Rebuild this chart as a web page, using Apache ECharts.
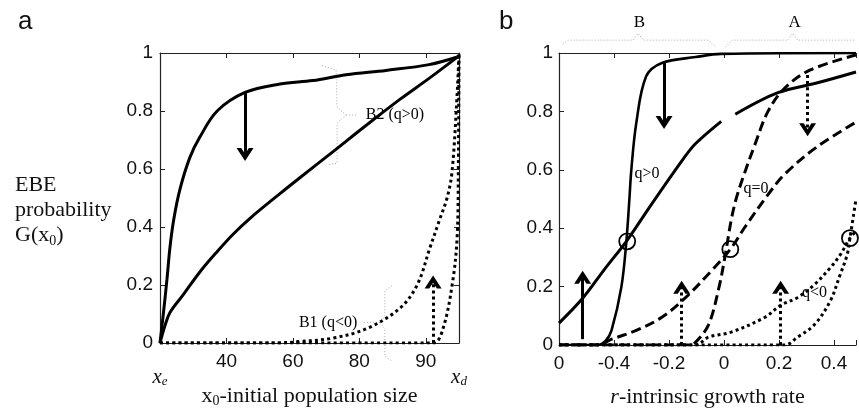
<!DOCTYPE html>
<html><head><meta charset="utf-8">
<script src="https://cdn.jsdelivr.net/npm/echarts@6/dist/echarts.min.js"></script>
<style>html,body{margin:0;padding:0;background:#fff}#c{width:859px;height:413px}</style>
</head><body><div id="c"></div>
<script>
// ---------- Panel a ----------
const aTickValues = [40, 60, 80, 100];
const aTickLabels = ['40', '60', '80', '90'];
const aSolidSteepX = [20, 21, 22.1, 23, 24.2, 26, 29, 32, 37.2, 45.6, 56.1, 66, 76, 88, 101, 110];
const aSolidSteepY = [0, 0.1, 0.22, 0.33, 0.43, 0.53, 0.64, 0.71, 0.8, 0.864, 0.893, 0.905, 0.925, 0.94, 0.96, 0.988];
const aSolidShallowX = [20, 21.5, 23, 26.9, 32, 37.2, 42, 47.1, 56.1, 62.1, 72.1, 82, 92.2, 101.3, 110];
const aSolidShallowY = [0, 0.06, 0.105, 0.165, 0.245, 0.315, 0.375, 0.43, 0.515, 0.57, 0.66, 0.75, 0.84, 0.915, 0.99];
const aDotShallowX = [20, 55, 62.1, 72.1, 82.3, 92.2, 97.4, 101.3, 104, 106.4, 107.9, 109.4, 110];
const aDotShallowY = [0, 0, 0.005, 0.017, 0.05, 0.12, 0.2, 0.33, 0.42, 0.5, 0.59, 0.85, 1];
const aDotSteepX = [20, 102.2, 105.2, 108.2, 109.5, 109.8, 110];
const aDotSteepY = [0, 0, 0.05, 0.22, 0.38, 0.6, 1];
const aArrowX = [45.6, 102.2];
const aArrowFrom = [0.864, 0];
const aArrowTo = [0.65, 0.21];
const aArrowDotted = [false, true];
const aLabelText = ['B2 (q>0)', 'B1 (q<0)'];
const aLabelX = [90.7, 70.6];
const aLabelY = [0.786, 0.071];
const aBrace1X = [68.8, 73, 73.3, 76, 73.3, 73.3, 70.6, 71, 76, 79.6];
const aBrace1Y = [0.956, 0.942, 0.814, 0.786, 0.759, 0.62, 0.614, null, 0.786, 0.786];
const aBrace2X = [89.8, 87.7, 87.7, 86.2, 87.7, 87.7, 89.8, 88, 86.2, 80.8];
const aBrace2Y = [0.197, 0.18, 0.095, 0.071, 0.047, -0.047, -0.061, null, 0.071, 0.071];

// ---------- Panel b ----------
const bTickValues = [-0.6, -0.4, -0.2, 0, 0.2, 0.4];
const bTickLabels = ['0', '-0.4', '-0.2', '0', '0.2', '0.4'];
const bSolidSteepX = [-0.6, -0.46, -0.43, -0.409, -0.373, -0.355, -0.344, -0.337, -0.319, -0.283, -0.226, -0.103, -0.01, 0.48];
const bSolidSteepY = [0, 0, 0.015, 0.05, 0.2, 0.355, 0.5, 0.6, 0.76, 0.92, 0.966, 0.986, 0.997, 1];
const bSolidShallowX = [-0.6, -0.514, -0.434, -0.355, -0.265, -0.146, -0.103, -0.01, 0.015, 0.041, 0.196, 0.34, 0.48];
const bSolidShallowY = [0.075, 0.16, 0.26, 0.355, 0.48, 0.64, 0.69, 0.766, null, 0.79, 0.864, 0.898, 0.935];
const bDashSteepX = [-0.6, -0.13, -0.103, -0.056, -0.02, 0.005, 0.026, 0.044, 0.07, 0.113, 0.16, 0.221, 0.314, 0.48];
const bDashSteepY = [0, 0, 0.01, 0.07, 0.19, 0.31, 0.427, 0.5, 0.576, 0.688, 0.8, 0.88, 0.942, 0.993];
const bDashShallowX = [-0.6, -0.452, -0.416, -0.319, -0.226, -0.139, -0.046, 0.023, 0.077, 0.16, 0.221, 0.34, 0.48];
const bDashShallowY = [0, 0, 0.017, 0.05, 0.095, 0.163, 0.254, 0.328, 0.405, 0.515, 0.585, 0.68, 0.763];
const bDotShallowX = [-0.6, -0.103, -0.056, 0.026, 0.149, 0.206, 0.268, 0.329, 0.386, 0.422, 0.458, 0.48];
const bDotShallowY = [0, 0, 0.027, 0.044, 0.095, 0.136, 0.163, 0.207, 0.264, 0.308, 0.366, 0.39];
const bDotSteepX = [-0.6, 0.221, 0.268, 0.329, 0.386, 0.422, 0.448, 0.458, 0.48];
const bDotSteepY = [0, 0, 0.027, 0.07, 0.15, 0.24, 0.31, 0.366, 0.5];
const bCircleX = [-0.352, 0.023, 0.458];
const bCircleY = [0.355, 0.328, 0.366];
const bArrowX = [-0.514, -0.218, -0.154, 0.206, 0.304];
const bArrowFrom = [0.02, 0.966, 0, 0, 0.925];
const bArrowTo = [0.232, 0.762, 0.198, 0.198, 0.737];
const bArrowDotted = [false, false, true, true, true];
const bLabelText = ['q>0', 'q=0', 'q<0', 'B', 'A'];
const bLabelX = [-0.28, 0.116, 0.329, -0.308, 0.257];
const bLabelY = [0.586, 0.536, 0.18, 1.105, 1.105];
const bBraceBX = [-0.586, -0.568, -0.33, -0.312, -0.294, -0.056, -0.031];
const bBraceBY = [1.031, 1.044, 1.044, 1.068, 1.044, 1.044, 1.02];
const bBraceAX = [0.005, 0.03, 0.232, 0.25, 0.268, 0.48];
const bBraceAY = [1.02, 1.044, 1.044, 1.068, 1.044, 1.044];

// ---------- helpers ----------
const SANS = '"Liberation Sans", Arial, sans-serif';
const SERIF = '"Liberation Serif", "Times New Roman", serif';
const pairs = (xs, ys) => xs.map((x, i) => (ys[i] === null ? [x, '-'] : [x, ys[i]]));
const DOT = [3, 3.2];
const DASH = [10, 5];
const CHEVRON = 'path://M0,12 L10,0 L20,12 L14.5,12 L10,6.5 L5.5,12 Z';

function curve(xs, ys, type, gi, width) {
  return {
    type: 'line', xAxisIndex: gi, yAxisIndex: gi, data: pairs(xs, ys),
    showSymbol: false, symbol: 'none', smooth: 0.35,
    lineStyle: { color: '#000', width: width || 3, type: type, cap: 'butt' },
    silent: true, z: 3
  };
}
function brace(xs, ys, gi) {
  return {
    type: 'line', xAxisIndex: gi, yAxisIndex: gi, data: pairs(xs, ys),
    showSymbol: false, symbol: 'none', clip: false, silent: true,
    lineStyle: { color: '#aaa', width: 1, type: [1, 2] }, z: 1
  };
}
function arrows(xs, from, to, dotted, gi) {
  return {
    type: 'line', xAxisIndex: gi, yAxisIndex: gi, data: [], silent: true,
    markLine: {
      silent: true, animation: false,
      symbol: ['none', CHEVRON], symbolSize: [17, 13],
      label: { show: false },
      lineStyle: { color: '#000', width: 3, type: 'solid' },
      data: xs.map((x, i) => [
        { coord: [x, from[i]], lineStyle: { color: '#000', width: 3, type: dotted[i] ? DOT : 'solid' } },
        { coord: [x, to[i]] }
      ])
    }
  };
}
function labels(texts, xs, ys, gi, size) {
  return {
    type: 'scatter', xAxisIndex: gi, yAxisIndex: gi, clip: false, silent: true,
    symbol: 'circle', symbolSize: 0,
    itemStyle: { color: 'transparent', opacity: 1 },
    label: { show: true, position: 'inside', formatter: p => p.name, opacity: 1,
      fontFamily: SERIF, fontSize: size, color: '#000', textBorderWidth: 0 },
    data: texts.map((t, i) => ({ name: t, value: [xs[i], ys[i]] })), z: 5
  };
}
const axisLine = { show: true, onZero: false, lineStyle: { color: '#222', width: 1.2 } };
const tick = { show: true, inside: true, length: 5, lineStyle: { color: '#222' } };
const tickLabel = { fontFamily: SANS, fontSize: 19, color: '#111' };
const fmt = (vals, labs) => v => { const i = vals.findIndex(t => Math.abs(t - v) < 1e-6); return i >= 0 ? labs[i] : ''; };

const chart = echarts.init(document.getElementById('c'), null, { renderer: 'canvas' });
chart.setOption({
  animation: false,
  backgroundColor: '#fff',
  title: [
    { text: 'a', left: 13, top: 4, textStyle: { fontFamily: SANS, fontSize: 26, fontWeight: 'normal', color: '#111' } },
    { text: 'b', left: 494, top: 4, textStyle: { fontFamily: SANS, fontSize: 26, fontWeight: 'normal', color: '#111' } },
    { text: 'EBE\nprobability\n{t|G(x}{s|0}{t|)}', left: 10, top: 168,
      textStyle: { fontFamily: SERIF, fontSize: 22, lineHeight: 25, fontWeight: 'normal', color: '#111',
        rich: { t: { fontFamily: SERIF, fontSize: 22, lineHeight: 25, color: '#111' },
                s: { fontFamily: SERIF, fontSize: 14, lineHeight: 25, verticalAlign: 'bottom', padding: [8, 0, 0, 0], color: '#111' } } } }
  ],
  grid: [
    { left: 160, top: 53, width: 299, bottom: 65 },
    { left: 559, top: 53, right: 0, bottom: 65 }
  ],
  xAxis: [
    { gridIndex: 0, type: 'value', min: 20, max: 110, interval: 20, position: 'bottom',
      axisLine, axisTick: tick, splitLine: { show: false },
      axisLabel: Object.assign({ margin: 9, formatter: fmt(aTickValues, aTickLabels) }, tickLabel),
      name: '{t|x}{s|0}{t|-initial population size}', nameLocation: 'middle', nameGap: 41,
      nameTextStyle: { rich: { t: { fontFamily: SERIF, fontSize: 22, color: '#111' },
                               s: { fontFamily: SERIF, fontSize: 14, color: '#111', verticalAlign: 'bottom', padding: [10, 0, 0, 0] } } } },
    { gridIndex: 1, type: 'value', min: -0.6, max: 0.48, interval: 0.2, position: 'bottom',
      axisLine, axisTick: tick, splitLine: { show: false },
      axisLabel: Object.assign({ margin: 9, formatter: fmt(bTickValues, bTickLabels) }, tickLabel),
      name: '{i|r}{t|-intrinsic growth rate}', nameLocation: 'middle', nameGap: 41,
      nameTextStyle: { rich: { t: { fontFamily: SERIF, fontSize: 22, color: '#111' },
                               i: { fontFamily: SERIF, fontSize: 22, fontStyle: 'italic', color: '#111' } } } },
    { gridIndex: 0, type: 'value', min: 20, max: 110, interval: 90, position: 'bottom', offset: 14,
      axisLine: { show: false, onZero: false }, axisTick: { show: false }, splitLine: { show: false },
      axisLabel: { margin: 9, showMaxLabel: true, showMinLabel: true,
        formatter: v => (Math.abs(v - 20) < 1e-6 ? '{i|x}{s|e}' : (Math.abs(v - 110) < 1e-6 ? '{i|x}{s|d}' : '')),
        rich: { i: { fontFamily: SERIF, fontSize: 21, fontStyle: 'italic', color: '#111' },
                s: { fontFamily: SERIF, fontSize: 13, fontStyle: 'italic', color: '#111', verticalAlign: 'bottom', padding: [9, 0, 0, 0] } } } },
    { gridIndex: 0, type: 'value', min: 20, max: 110, interval: 20, position: 'top',
      axisLine, axisTick: tick, axisLabel: { show: false }, splitLine: { show: false } },
    { gridIndex: 1, type: 'value', min: -0.6, max: 0.48, interval: 0.2, position: 'top',
      axisLine, axisTick: tick, axisLabel: { show: false }, splitLine: { show: false } }
  ],
  yAxis: [
    { gridIndex: 0, type: 'value', min: 0, max: 1, interval: 0.2, position: 'left',
      axisLine, axisTick: tick, splitLine: { show: false },
      axisLabel: Object.assign({ margin: 7 }, tickLabel) },
    { gridIndex: 1, type: 'value', min: 0, max: 1, interval: 0.2, position: 'left',
      axisLine, axisTick: tick, splitLine: { show: false },
      axisLabel: Object.assign({ margin: 6 }, tickLabel) },
    { gridIndex: 0, type: 'value', min: 0, max: 1, interval: 0.2, position: 'right',
      axisLine, axisTick: tick, axisLabel: { show: false }, splitLine: { show: false } }
  ],
  series: [
    brace(aBrace1X, aBrace1Y, 0),
    brace(aBrace2X, aBrace2Y, 0),
    curve(aSolidSteepX, aSolidSteepY, 'solid', 0),
    curve(aSolidShallowX, aSolidShallowY, 'solid', 0),
    curve(aDotShallowX, aDotShallowY, DOT, 0),
    curve(aDotSteepX, aDotSteepY, DOT, 0),
    arrows(aArrowX, aArrowFrom, aArrowTo, aArrowDotted, 0),
    labels(aLabelText, aLabelX, aLabelY, 0, 16),

    brace(bBraceBX, bBraceBY, 1),
    brace(bBraceAX, bBraceAY, 1),
    curve(bSolidSteepX, bSolidSteepY, 'solid', 1, 2.6),
    curve(bSolidShallowX, bSolidShallowY, 'solid', 1),
    curve(bDashSteepX, bDashSteepY, DASH, 1),
    curve(bDashShallowX, bDashShallowY, DASH, 1),
    curve(bDotShallowX, bDotShallowY, DOT, 1),
    curve(bDotSteepX, bDotSteepY, DOT, 1),
    arrows(bArrowX, bArrowFrom, bArrowTo, bArrowDotted, 1),
    { type: 'scatter', xAxisIndex: 1, yAxisIndex: 1, clip: false, silent: true,
      symbol: 'circle', symbolSize: 16,
      itemStyle: { color: 'transparent', borderColor: '#000', borderWidth: 1.8, opacity: 1 },
      data: pairs(bCircleX, bCircleY), z: 6 },
    labels(bLabelText.slice(0, 3), bLabelX.slice(0, 3), bLabelY.slice(0, 3), 1, 16),
    labels(bLabelText.slice(3), bLabelX.slice(3), bLabelY.slice(3), 1, 17)
  ]
});
</script>
</body></html>
